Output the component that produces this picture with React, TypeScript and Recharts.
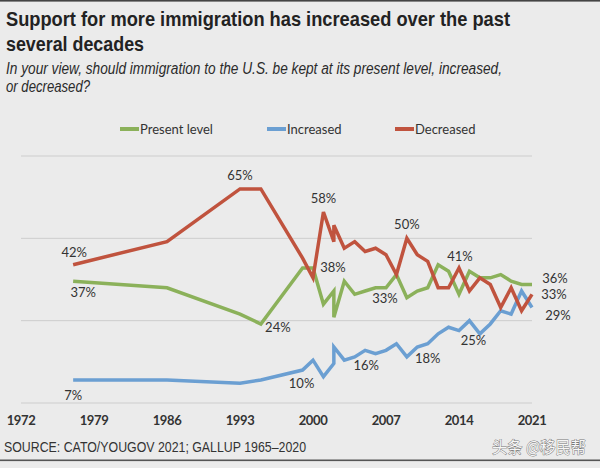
import React from 'react';
import { LineChart, Line, XAxis, YAxis, CartesianGrid, Legend } from 'recharts';

// Survey years (Excel date axis: several polls in one year share an x position)
const years = [1977, 1986, 1993, 1995, 1999, 2000, 2001, 2002, 2002, 2003, 2004, 2005, 2006, 2007, 2008, 2009, 2010, 2011, 2012, 2013, 2014, 2015, 2016, 2017, 2018, 2019, 2020, 2021];
const presentLevel = [37, 35, 27, 24, 41, 41, 30, 34, 26, 37, 33, 34, 35, 35, 39, 32, 34, 35, 42, 40, 33, 40, 38, 38, 39, 37, 36, 36];
const increased = [7, 7, 6, 7, 10, 13, 8, 12, 17, 13, 14, 16, 15, 16, 18, 14, 17, 18, 21, 23, 22, 25, 21, 24, 28, 27, 34, 29];
const decreased = [42, 49, 65, 65, 44, 38, 58, 49, 54, 47, 49, 46, 47, 45, 39, 50, 45, 43, 35, 35, 41, 34, 38, 36, 29, 35, 28, 33];

const xTicks = [1972, 1979, 1986, 1993, 2000, 2007, 2014, 2021];
const yTicks = [0, 25, 50, 75];

const seriesNames = { presentLevel: 'Present level', increased: 'Increased', decreased: 'Decreased' };

// Annotated points: series, row index, label text
const annotations = [
  { series: 'decreased', row: 0, text: '42%' },
  { series: 'presentLevel', row: 0, text: '37%' },
  { series: 'increased', row: 0, text: '7%' },
  { series: 'decreased', row: 2, text: '65%' },
  { series: 'presentLevel', row: 3, text: '24%' },
  { series: 'increased', row: 4, text: '10%' },
  { series: 'decreased', row: 5, text: '38%' },
  { series: 'decreased', row: 6, text: '58%' },
  { series: 'increased', row: 11, text: '16%' },
  { series: 'presentLevel', row: 13, text: '33%' },
  { series: 'decreased', row: 15, text: '50%' },
  { series: 'increased', row: 17, text: '18%' },
  { series: 'decreased', row: 20, text: '41%' },
  { series: 'increased', row: 21, text: '25%' },
  { series: 'presentLevel', row: 27, text: '36%' },
  { series: 'decreased', row: 27, text: '33%' },
  { series: 'increased', row: 27, text: '29%' },
];

// label placement (style): [dx to text centre, dy to baseline]
const labelOffsets: Record<string, [number, number]> = {
  'decreased-0': [1, -8],
  'presentLevel-0': [10, 16],
  'increased-0': [0, 20],
  'decreased-2': [0, -9],
  'presentLevel-3': [17, 8],
  'increased-4': [-1, 18],
  'decreased-5': [20, -6],
  'decreased-6': [0, -9],
  'increased-11': [1, 20],
  'presentLevel-13': [-1, 15],
  'decreased-15': [0, -9],
  'increased-17': [0, 19],
  'decreased-20': [1, -7],
  'increased-21': [4, 24],
  'presentLevel-27': [23, -1],
  'decreased-27': [22, 5],
  'increased-27': [26, 13],
};

const data = years.map((year, i) => ({
  year,
  presentLevel: presentLevel[i],
  increased: increased[i],
  decreased: decreased[i],
}));

const COLORS: Record<string, string> = {
  presentLevel: '#8bb15a',
  increased: '#6b9fd2',
  decreased: '#c0533e',
};

const FONT = 'Lato, "Open Sans", sans-serif';
const HFONT = '"Liberation Sans", Arial, sans-serif';
const TEXT = '#333333';

const makeLabel = (series: string) => (props: any) => {
  const { x, y, index } = props;
  const ann = annotations.find((a) => a.series === series && a.row === index);
  if (!ann || x == null || y == null) return <g key={`${series}-${index}`} />;
  const off = labelOffsets[`${series}-${index}`] || [0, -8];
  return (
    <text
      key={`${series}-${index}`}
      x={x + off[0]}
      y={y + off[1]}
      textAnchor="middle"
      fontFamily={FONT}
      fontSize={13}
      fill={TEXT}
    >
      {ann.text}
    </text>
  );
};

const XTick = (props: any) => {
  const { x, y, payload } = props;
  return (
    <text
      x={x}
      y={y + 22}
      textAnchor="middle"
      fontFamily={FONT}
      fontWeight={700}
      fontSize={13}
      letterSpacing={-0.4}
      fill={TEXT}
    >
      {payload.value}
    </text>
  );
};

const legendItems = [
  { key: 'presentLevel', left: 120 },
  { key: 'increased', left: 267 },
  { key: 'decreased', left: 395 },
];

const LegendContent = () => (
  <div style={{ position: 'relative', width: 600, height: 18 }}>
    {legendItems.map((it) => (
      <div
        key={it.key}
        style={{
          position: 'absolute',
          left: it.left,
          top: 0,
          height: 18,
          display: 'flex',
          alignItems: 'center',
          whiteSpace: 'nowrap',
        }}
      >
        <div style={{ width: 19, height: 3.5, background: COLORS[it.key], marginRight: 1 }} />
        <span style={{ fontFamily: FONT, fontSize: 13, color: TEXT }}>
          {(seriesNames as any)[it.key]}
        </span>
      </div>
    ))}
  </div>
);

// Condensed header text: scaleX applied via transform, width fixed in scaled units
const Squeezed = ({ x, y, sx, width, children, ...rest }: any) => (
  <text
    transform={`translate(${x},${y}) scale(${sx},1)`}
    x={0}
    y={0}
    textLength={width / sx}
    lengthAdjust="spacingAndGlyphs"
    {...rest}
  >
    {children}
  </text>
);

export default function App() {
  return (
    <div
      style={{
        position: 'absolute',
        left: 0,
        top: 0,
        width: 600,
        height: 468,
        background: '#ebebeb',
        overflow: 'hidden',
      }}
    >
      <svg width={600} height={468} style={{ position: 'absolute', left: 0, top: 0 }}>
        <rect x={0} y={0} width={600} height={1.6} fill="#444" />
        <Squeezed x={6} y={26} sx={0.87} width={504} fontFamily={HFONT} fontWeight={700} fontSize={21} fill="#222">
          Support for more immigration has increased over the past
        </Squeezed>
        <Squeezed x={6} y={50.5} sx={0.86} width={138} fontFamily={HFONT} fontWeight={700} fontSize={21} fill="#222">
          several decades
        </Squeezed>
        <Squeezed x={6} y={74} sx={0.83} width={496} fontFamily={HFONT} fontStyle="italic" fontSize={16.5} fill="#2a2a2a">
          In your view, should immigration to the U.S. be kept at its present level, increased,
        </Squeezed>
        <Squeezed x={6} y={92} sx={0.8} width={84} fontFamily={HFONT} fontStyle="italic" fontSize={16.5} fill="#2a2a2a">
          or decreased?
        </Squeezed>
        <Squeezed x={4} y={452} sx={0.88} width={302} fontFamily={HFONT} fontSize={14} fill="#333">
          SOURCE: CATO/YOUGOV 2021; GALLUP 1965–2020
        </Squeezed>
        <text x={492} y={453} fontFamily='"Noto Sans CJK SC", sans-serif' fontSize={16} fill="#f6f6f6" stroke="#777" strokeWidth={0.9} paintOrder="stroke" textLength={94} lengthAdjust="spacingAndGlyphs">
          头条 @移民帮
        </text>
        <rect x={0} y={459.5} width={600} height={1.6} fill="#555" />
      </svg>
      <div style={{ position: 'absolute', left: 0, top: 0 }}>
        <LineChart
          width={600}
          height={468}
          data={data}
          margin={{ top: 156, right: 68, bottom: 35, left: 21 }}
        >
          <CartesianGrid horizontal vertical={false} stroke="#cdcdcd" strokeWidth={1} />
          <XAxis
            dataKey="year"
            type="number"
            domain={[1972, 2021]}
            ticks={xTicks}
            interval={0}
            axisLine={false}
            tickLine={false}
            tickSize={0}
            tickMargin={0}
            height={30}
            tick={<XTick />}
          />
          <YAxis hide domain={[0, 75]} ticks={yTicks} type="number" />
          <Legend
            layout="horizontal"
            verticalAlign="middle"
            align="center"
            wrapperStyle={{ position: 'absolute', top: 120, left: 0, width: 600, height: 18 }}
            content={<LegendContent />}
          />
          <Line
            dataKey="presentLevel"
            name={seriesNames.presentLevel}
            stroke={COLORS.presentLevel}
            strokeWidth={3.5}
            dot={false}
            activeDot={false}
            isAnimationActive={false}
            label={makeLabel('presentLevel')}
          />
          <Line
            dataKey="increased"
            name={seriesNames.increased}
            stroke={COLORS.increased}
            strokeWidth={3.5}
            dot={false}
            activeDot={false}
            isAnimationActive={false}
            label={makeLabel('increased')}
          />
          <Line
            dataKey="decreased"
            name={seriesNames.decreased}
            stroke={COLORS.decreased}
            strokeWidth={3.5}
            dot={false}
            activeDot={false}
            isAnimationActive={false}
            label={makeLabel('decreased')}
          />
        </LineChart>
      </div>
    </div>
  );
}
